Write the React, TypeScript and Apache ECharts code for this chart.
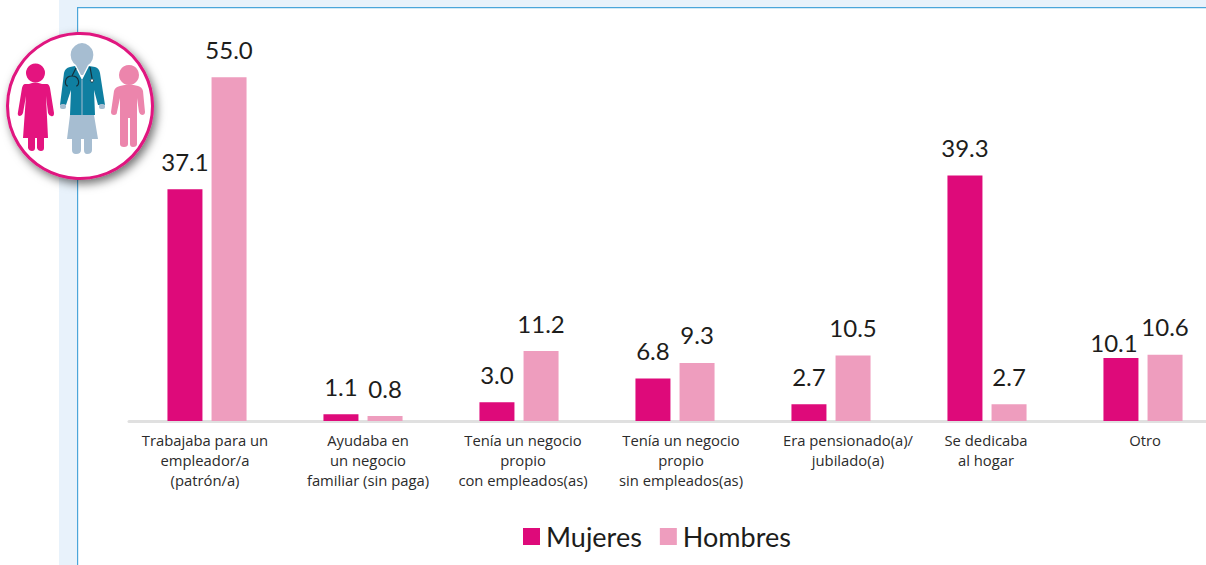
import React, { useEffect, useRef } from "react";
import * as echarts from "echarts";

const categories = [
  "Trabajaba para un\nempleador/a\n(patrón/a)",
  "Ayudaba en\nun negocio\nfamiliar (sin paga)",
  "Tenía un negocio\npropio\ncon empleados(as)",
  "Tenía un negocio\npropio\nsin empleados(as)",
  "Era pensionado(a)/\njubilado(a)",
  "Se dedicaba\nal hogar",
  "Otro",
];
const mujeres = [37.1, 1.1, 3.0, 6.8, 2.7, 39.3, 10.1];
const hombres = [55.0, 0.8, 11.2, 9.3, 10.5, 2.7, 10.6];

const labelShift = [-2, 5, 4, 6, 17, -1, 2];
const mujeresLabelTweak: Record<number, any> = { 6: { distance: 3, offset: [-7, 0] } };

const woman =
  "M29 84 Q35 81 42 84 L47 84 Q49 84 50 88 L54 113 Q54 117 51 116 Q49 116 48 113 L46 96 L48 138 L44 138 L44 148 Q44 151 41 151 Q38 151 37 148 L37 138 L35 138 L35 148 Q35 151 32 151 Q29 151 28 148 L28 138 L23 138 L26 96 L23 113 Q22 116 20 116 Q17 116 18 112 L22 88 Q23 84 25 84 Z";
const man =
  "M120 86 Q129 83 138 86 Q142 87 143 91 L145 112 Q145 115 142 115 Q140 115 139 112 L137 98 L137 144 Q137 147 133 147 Q130 147 130 144 L130 118 L128 118 L128 144 Q128 147 124 147 Q120 147 120 144 L120 98 L117 112 Q117 115 114 115 Q111 115 111 112 L114 91 Q115 87 120 86 Z";
const jacket =
  "M70 67 L75 66 L82 80 L89 66 L95 67 Q99 68 100 73 L105 105 L98 105 L94 90 L95 115 L70 115 L71 90 L66 105 L60 105 L64 73 Q65 68 70 67 Z";
const skirtLegs =
  "M70 115 L94 115 L98 139 L92 139 L92 150 Q92 154 87 154 Q84 154 84 150 L84 139 L81 139 L81 150 Q81 154 76 154 Q72 154 72 150 L72 139 L67 139 Z";
const headNeck =
  "M82 43 A12 12 0 0 1 88 65 L83 75 L81 75 L76 65 A12 12 0 0 1 82 43 Z";
const steth =
  "M76 68 L72 76 M72 76 C64 76 64 86 68 86 M72 76 C80 76 80 86 76 86 M90 67 L92 78";

echarts.graphic.registerShape("iconWoman", echarts.graphic.extendPath(woman, {}));
echarts.graphic.registerShape("iconMan", echarts.graphic.extendPath(man, {}));
echarts.graphic.registerShape("iconJacket", echarts.graphic.extendPath(jacket, {}));
echarts.graphic.registerShape("iconSkirt", echarts.graphic.extendPath(skirtLegs, {}));
echarts.graphic.registerShape("iconHead", echarts.graphic.extendPath(headNeck, {}));
echarts.graphic.registerShape("iconSteth", echarts.graphic.extendPath(steth, {}));

const FONT = "Lato";
const AXIS_FONT = "Open Sans";
const PINK = "#de0a7a";
const ROSE = "#ee9dbe";

export default function App() {
  const ref = useRef<HTMLDivElement>(null);
  useEffect(() => {
    const chart = echarts.init(ref.current!, undefined, { renderer: "svg" });
    const valueLabel = {
      show: true,
      position: "top" as const,
      distance: 16,
      fontFamily: FONT,
      fontSize: 24,
      color: "#1d1d1b",
      formatter: (p: any) => Number(p.value).toFixed(1),
    };
    chart.setOption({
      animation: false,
      textStyle: { fontFamily: FONT },
      grid: { left: 129, top: 46, width: 1092, height: 375, outerBoundsMode: "none" },
      legend: {
        data: ["Mujeres", "Hombres"],
        left: 518,
        top: 518,
        itemWidth: 17,
        itemHeight: 17,
        itemGap: 18,
        icon: "rect",
        textStyle: { fontFamily: FONT, fontSize: 27, color: "#1d1d1b", padding: [0, 0, 0, 1] },
      },
      xAxis: {
        type: "category",
        data: categories.map((value, i) => ({
          value,
          textStyle: { padding: labelShift[i] > 0 ? [0, 0, 0, labelShift[i] * 2] : [0, -labelShift[i] * 2, 0, 0] },
        })),
        axisLine: { lineStyle: { color: "#e0e0e0", width: 3 } },
        axisTick: { show: false },
        axisLabel: {
          interval: 0,
          margin: 9,
          fontFamily: AXIS_FONT,
          fontSize: 14.8,
          lineHeight: 20,
          color: "#2b2b2b",
          hideOverlap: false,
        },
      },
      yAxis: { type: "value", min: 0, max: 60, show: false, splitLine: { show: false } },
      series: [
        {
          name: "Mujeres", type: "bar", barWidth: 35, barGap: "26%",
          data: mujeres.map((value, i) => (mujeresLabelTweak[i] ? { value, label: mujeresLabelTweak[i] } : value)),
          itemStyle: { color: PINK }, label: valueLabel,
        },
        {
          name: "Hombres", type: "bar", barWidth: 35, barGap: "26%",
          data: hombres,
          itemStyle: { color: ROSE }, label: valueLabel,
        },
      ],
      graphic: [
        { type: "rect", z: -10, shape: { x: 59, y: 0, width: 18, height: 565 }, style: { fill: "#e8f2fb" } },
        { type: "rect", z: -10, shape: { x: 59, y: 0, width: 1147, height: 7 }, style: { fill: "#e8f2fb" } },
        { type: "rect", z: -9, shape: { x: 77, y: 7, width: 1.2, height: 558 }, style: { fill: "#4ba6da" } },
        { type: "rect", z: -9, shape: { x: 77, y: 7, width: 1129, height: 1.2 }, style: { fill: "#4ba6da" } },
        {
          type: "group",
          z: 20,
          children: [
            {
              type: "circle",
              shape: { cx: 80, cy: 106, r: 72.5 },
              style: { fill: "#fff", stroke: "#e0147f", lineWidth: 3, shadowBlur: 10, shadowOffsetX: 3, shadowOffsetY: 4, shadowColor: "rgba(0,0,0,0.55)" },
            },
            { type: "circle", shape: { cx: 35.5, cy: 73, r: 9.5 }, style: { fill: "#e4147f" } },
            { type: "iconWoman", style: { fill: "#e4147f" } },
            { type: "circle", shape: { cx: 129, cy: 75, r: 10 }, style: { fill: "#ec85ac" } },
            { type: "iconMan", style: { fill: "#ec85ac" } },
            { type: "iconSkirt", style: { fill: "#a6bdd1" } },
            { type: "iconJacket", style: { fill: "#0f7fa1" } },
            { type: "rect", shape: { x: 60, y: 104, width: 6, height: 5, r: 2 }, style: { fill: "#a6bdd1" } },
            { type: "rect", shape: { x: 99, y: 104, width: 6, height: 5, r: 2 }, style: { fill: "#a6bdd1" } },
            { type: "rect", shape: { x: 81.5, y: 80, width: 1, height: 35 }, style: { fill: "#a6bdd1" } },
            { type: "iconHead", style: { fill: "#a6bdd1" } },
            { type: "iconSteth", style: { fill: "none", stroke: "#17303b", lineWidth: 1.2 } },
            { type: "circle", shape: { cx: 92, cy: 80.5, r: 1.6 }, style: { fill: "#fff", stroke: "#17303b", lineWidth: 1 } },
          ],
        },
      ],
    });
    return () => chart.dispose();
  }, []);
  return (
    <div
      ref={ref}
      style={{ position: "absolute", left: 0, top: 0, width: 1206, height: 565, background: "#fff" }}
    />
  );
}
